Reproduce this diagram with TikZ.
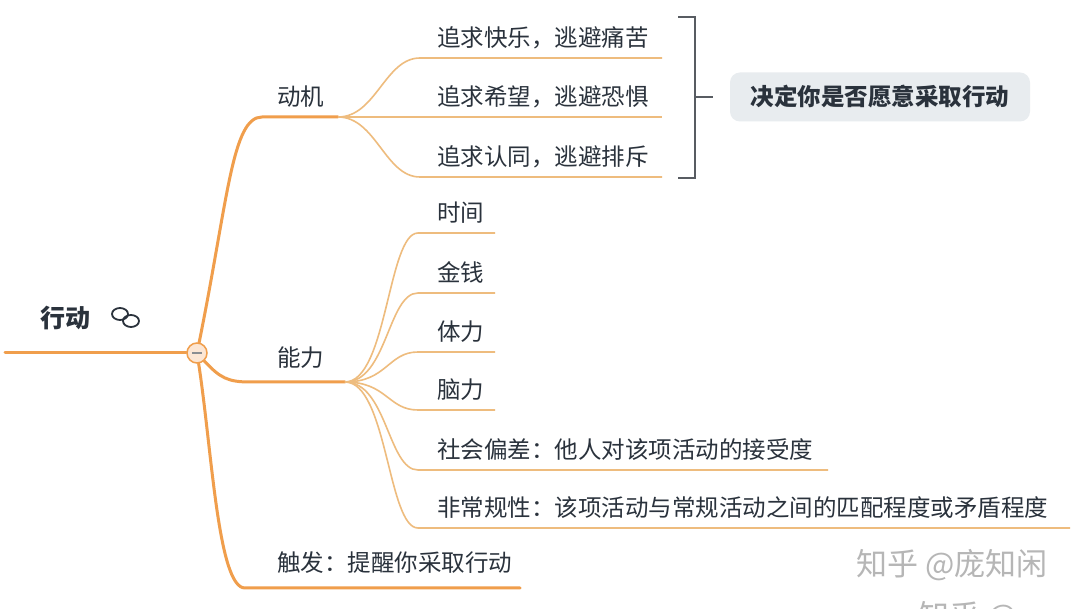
\documentclass[tikz,border=0pt]{standalone}
\usepackage{fontspec}
\setmainfont{Noto Sans CJK SC}
\definecolor{branch}{RGB}{240,158,76}
\definecolor{twigc}{RGB}{238,188,126}
\definecolor{ringc}{RGB}{252,230,212}
\definecolor{ink}{RGB}{42,50,60}
\definecolor{boxfill}{RGB}{232,236,239}
\definecolor{bracketc}{RGB}{88,92,98}
\definecolor{markc}{RGB}{182,182,182}
\tikzstyle{trunk}=[branch,line width=3pt,line cap=round]
\tikzstyle{twig}=[twigc,line width=1.6pt]
\tikzstyle{topic}=[anchor=base west,inner sep=0pt,text=ink,font=\fontsize{23.5}{28}\selectfont]
\tikzstyle{bracket}=[bracketc,line width=2.2pt]
\tikzstyle{goalbox}=[fill=boxfill,rounded corners=10pt,minimum width=300pt,minimum height=49pt,
  text=ink,font=\bfseries\fontsize{23.5}{28}\selectfont]
\tikzstyle{watermark}=[text=markc,inner sep=0pt,font=\fontsize{31}{36}\selectfont]

\begin{document}
\begin{tikzpicture}[x=1pt,y=-1pt]
    \clip (0,0) rectangle (1080,609);
    \fill[white] (0,0) rectangle (1080,609);
    % root
    \node[topic,font=\bfseries\fontsize{25}{30}\selectfont] (act) at (40,327.5) {行动};
    \draw[ink,line width=1.8pt] (120,314) ellipse (8 and 6) (131,321) ellipse (8 and 6);
    \coordinate (root) at (5,353);
    \node[circle,draw=branch,fill=ringc,line width=1.5pt,minimum size=20pt,inner sep=0pt] (ring) at (197,353) {};
    \draw[trunk] (root) -- (ring);
    \draw[bracketc!70,line width=1.3pt] ([xshift=-5pt]ring.center) -- ([xshift=5pt]ring.center);
    % motive
    \coordinate (dj-s) at (262,117);
    \coordinate (dj-e) at (338,117);
    \draw[trunk] (ring) .. controls (228,200) and (232,117) .. (dj-s) -- (dj-e);
    \node[topic] (dj) at (277,106) {动机};
    \foreach \name/\y/\txt in {kl/58/追求快乐，逃避痛苦, xw/117/追求希望，逃避恐惧, rt/177/追求认同，逃避排斥}{
      \coordinate (\name-s) at (420,\y);
      \coordinate (\name-e) at (662,\y);
      \draw[twig] (dj-e) .. controls +(38,0) and +(-35,0) .. (\name-s) -- (\name-e);
      \node[topic] (\name) at (437,\y-11) {\txt};
    }
    \coordinate (br-t) at (678,17);
    \coordinate (br-b) at (678,178);
    \coordinate (br-m) at (695,97);
    \draw[bracket] (br-t) -| (br-m) |- (br-b);
    \draw[bracket] (br-m) -- +(18,0);
    \node[goalbox] (goal) at (880,97) {决定你是否愿意采取行动};
    % ability
    \coordinate (nl-s) at (250,382);
    \coordinate (nl-e) at (345,382);
    \draw[trunk] (ring) .. controls (220,378) and (228,382) .. (nl-s) -- (nl-e);
    \node[topic] (nl) at (277,367) {能力};
    \foreach \name/\y/\xe/\txt in {sj/233/495/时间, jq/293/495/金钱, tl/352/495/体力, nl2/410/495/脑力,
        sh/470/828/社会偏差：他人对该项活动的接受度, fc/528/1070/非常规性：该项活动与常规活动之间的匹配程度或矛盾程度}{
      \coordinate (\name-s) at (418,\y);
      \coordinate (\name-e) at (\xe,\y);
      \draw[twig] (nl-e) .. controls +(42,0) and +(-30,0) .. (\name-s) -- (\name-e);
      \node[topic] (\name) at (437,\y-11) {\txt};
    }
    % trigger
    \coordinate (cf-s) at (245,588);
    \coordinate (cf-e) at (520,588);
    \draw[trunk] (ring) .. controls (212,450) and (218,588) .. (cf-s) -- (cf-e);
    \node[topic] (cf) at (277,572) {触发：提醒你采取行动};
    % watermark
    \node[watermark] (zh) at (952,565) {知乎 @庞知闲};
    \node[watermark,anchor=north west] (zh2) at (918,601) {知乎 @};
\end{tikzpicture}
\end{document}
